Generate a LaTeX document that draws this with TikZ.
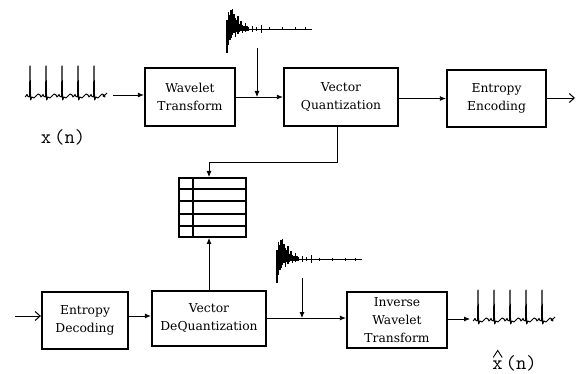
\documentclass[tikz,border=0pt]{standalone}
\usepackage{fontspec}
\newfontfamily\boxfont{DejaVu Serif}
\usetikzlibrary{arrows.meta}
\begin{document}
\begin{tikzpicture}[x=1pt,y=-1pt,
  blk/.style={draw,line width=2.3pt,align=center,inner sep=0pt,
    font=\boxfont\fontsize{12.3}{18}\selectfont},
  arr/.style={-{Latex[length=6pt,width=5pt]},line width=0.8pt},
  oarr/.style={-{Straight Barb[length=5pt,width=9pt,line width=1pt]},line width=0.8pt},
  lbl/.style={font=\ttfamily\fontsize{20}{22}\selectfont,inner sep=0pt},
  ecg/.pic={
    \draw[line width=1pt,line join=round] (0,1)
      \foreach \s in {5,21,37,53,69}{ -- (\s-4,0) -- (\s-3,-1.5) -- (\s-2,0.5)
        -- (\s-0.5,1) -- (\s,-30) -- (\s+0.6,4) -- (\s+2,1) -- (\s+4,2) -- (\s+6,0)
        -- (\s+8,-2) -- (\s+10,-1) -- (\s+11,1) }
      -- (78,0) -- (80,-1) -- (82,-3);
  },
  coef/.pic={
    \draw[line width=0.8pt] (0,0) -- (85,0);
    \foreach \dx/\t/\b in {0/-9/24, 1.4/-17/16, 2.8/-14/11, 4.2/-19/9, 5.6/-20/6,
      7/-15/4, 8.4/-11/8, 9.8/-9/3, 11.2/-13/5, 12.6/-5/3, 14/-8/2, 15.5/-4/4,
      17/-3/2, 18.5/-6/3, 20/-3/2, 21.5/-2/2}
      \draw[line width=1.5pt] (\dx,\t) -- (\dx,\b);
    \foreach \dx/\h in {25/3, 29/2, 34/4, 42/1.5, 55/1.5, 68/1.5, 78/1.5}
      \draw[line width=1pt] (\dx,-\h) -- (\dx,\h);
  }
]
\useasboundingbox (0,0) rectangle (581,374);

% encoder row
\node[blk,minimum width=90pt,minimum height=58pt] (wt) at (190,97) {Wavelet\\Transform};
\node[blk,minimum width=114pt,minimum height=58pt] (vq) at (341,97) {Vector\\Quantization};
\node[blk,minimum width=99pt,minimum height=57pt] (ee) at (496.5,98.5) {Entropy\\Encoding};

% decoder row
\node[blk,minimum width=86pt,minimum height=57pt] (ed) at (85,320.5) {Entropy\\Decoding};
\node[blk,minimum width=114pt,minimum height=55pt] (dq) at (209,318.5) {Vector\\DeQuantization};
\node[blk,minimum width=100pt,minimum height=56pt] (iwt) at (397,320) {Inverse\\Wavelet\\Transform};

% codebook
\node[draw,line width=2pt,minimum width=67pt,minimum height=59pt,inner sep=0pt] (cb) at (212.5,207.5) {};
\foreach \i in {1,2,3,4}
  \draw[line width=2pt] ([yshift=-12.2*\i pt]cb.north west) -- ([yshift=-12.2*\i pt]cb.north east);
\draw[line width=2pt] ([xshift=15pt]cb.north west) -- ([xshift=15pt]cb.south west);

% signals
\pic at (25,96) {ecg};
\pic at (473,320) {ecg};
\pic at (227,29) {coef};
\pic at (277,259) {coef};

\node[lbl] (xn) at (63,137) {x\hspace{3pt}(n)};
\node[lbl] (xhn) at (514.5,363) {x\hspace{3pt}(n)};
\draw[line width=0.9pt] ([shift={(1,-5.5)}]xhn.west) -- ([shift={(5.5,-12.5)}]xhn.west) -- ([shift={(10,-5.5)}]xhn.west);

% coordinates
\coordinate (in1) at (113,95);
\coordinate (c1) at (257,48);
\coordinate (j1) at (257,97);
\coordinate (out1) at (575,98);
\coordinate (cbin) at (209,162);
\coordinate (in2) at (15,316);
\coordinate (c2) at (302,278);
\coordinate (j2) at (302,318);
\coordinate (out2) at (470,319);

% encoder connectors
\draw[arr] (in1) -- (in1 -| wt.west);
\draw[arr] (wt.east |- j1) -- (vq.west |- j1);
\draw[arr] (c1) -- (j1);
\draw[arr] (vq.east |- ee) -- (ee.west);
\draw[oarr] (ee.east |- out1) -- (out1);
\draw[arr] ([xshift=-4pt]vq.south) |- (cbin) -- (cbin |- cb.north);

% decoder connectors
\draw[oarr] (in2) -- (in2 -| ed.west);
\draw[arr] (ed.east |- in2) -- (dq.west |- in2);
\draw[arr] (dq.north) -- (dq.north |- cb.south);
\draw[arr] (dq.east |- j2) -- (iwt.west |- j2);
\draw[arr] (c2) -- (j2);
\draw[arr] (iwt.east |- out2) -- (out2);
\end{tikzpicture}
\end{document}
